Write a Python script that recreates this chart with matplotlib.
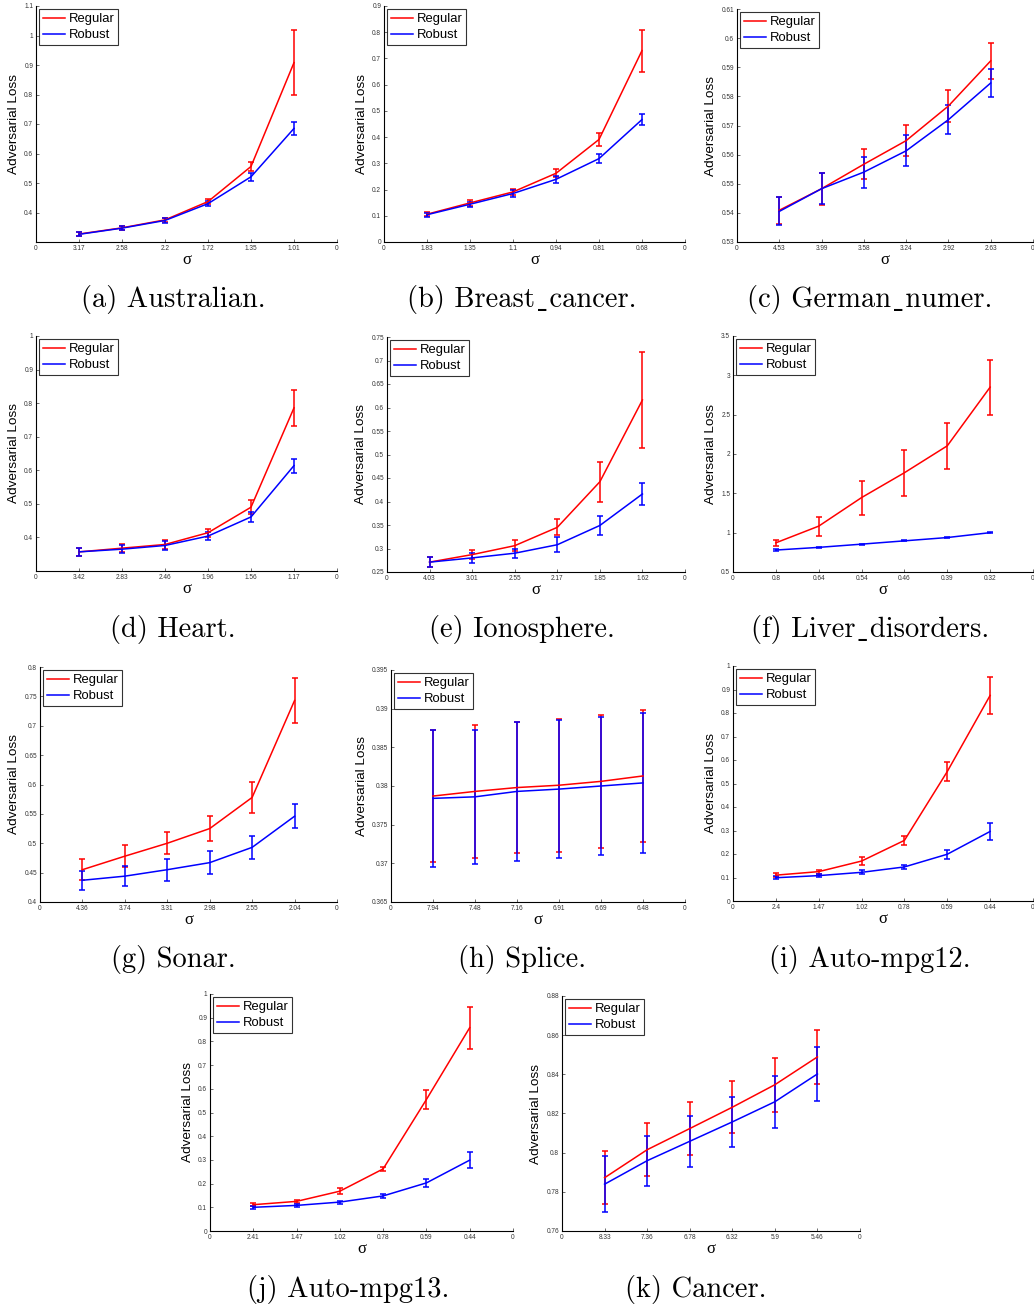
import matplotlib
matplotlib.use("Agg")
import matplotlib.pyplot as plt
from matplotlib.lines import Line2D
import numpy as np

plt.rcParams['font.family'] = ['Liberation Sans', 'DejaVu Sans']

# sigma tick labels for each dataset
sig_a = ['3.17', '2.58', '2.2', '1.72', '1.35', '1.01']
sig_b = ['1.83', '1.35', '1.1', '0.94', '0.81', '0.68']
sig_c = ['4.53', '3.99', '3.58', '3.24', '2.92', '2.63']
sig_d = ['3.42', '2.83', '2.46', '1.96', '1.56', '1.17']
sig_e = ['4.03', '3.01', '2.55', '2.17', '1.85', '1.62']
sig_f = ['0.8', '0.64', '0.54', '0.46', '0.39', '0.32']
sig_g = ['4.36', '3.74', '3.31', '2.98', '2.55', '2.04']
sig_h = ['7.94', '7.48', '7.16', '6.91', '6.69', '6.48']
sig_i = ['2.4', '1.47', '1.02', '0.78', '0.59', '0.44']
sig_j = ['2.41', '1.47', '1.02', '0.78', '0.59', '0.44']
sig_k = ['8.33', '7.36', '6.78', '6.32', '5.9', '5.46']

# adversarial loss (mean, error) -- Regular / Robust
reg_a = [0.327, 0.348, 0.375, 0.437, 0.556, 0.908]
reg_a_err = [0.007, 0.007, 0.008, 0.008, 0.015, 0.11]
rob_a = [0.326, 0.347, 0.373, 0.430, 0.521, 0.685]
rob_a_err = [0.007, 0.007, 0.008, 0.008, 0.014, 0.022]

reg_b = [0.106, 0.149, 0.191, 0.262, 0.391, 0.730]
reg_b_err = [0.008, 0.010, 0.012, 0.016, 0.026, 0.080]
rob_b = [0.104, 0.144, 0.185, 0.239, 0.318, 0.467]
rob_b_err = [0.008, 0.010, 0.012, 0.014, 0.018, 0.022]

reg_c = [0.5409, 0.5483, 0.5567, 0.5648, 0.5767, 0.5922]
reg_c_err = [0.0047, 0.0055, 0.0052, 0.0053, 0.0054, 0.0062]
rob_c = [0.5405, 0.5483, 0.5540, 0.5613, 0.5720, 0.5846]
rob_c_err = [0.0048, 0.0054, 0.0053, 0.0053, 0.0050, 0.0048]

reg_d = [0.357, 0.368, 0.379, 0.414, 0.490, 0.786]
reg_d_err = [0.012, 0.012, 0.012, 0.012, 0.020, 0.053]
rob_d = [0.357, 0.365, 0.376, 0.404, 0.461, 0.614]
rob_d_err = [0.012, 0.012, 0.012, 0.012, 0.016, 0.021]

reg_e = [0.271, 0.287, 0.306, 0.345, 0.442, 0.616]
reg_e_err = [0.010, 0.010, 0.012, 0.017, 0.042, 0.102]
rob_e = [0.271, 0.280, 0.290, 0.308, 0.349, 0.416]
rob_e_err = [0.011, 0.010, 0.010, 0.016, 0.020, 0.024]

reg_f = [0.871, 1.083, 1.446, 1.762, 2.104, 2.850]
reg_f_err = [0.042, 0.120, 0.217, 0.295, 0.290, 0.350]
rob_f = [0.779, 0.813, 0.854, 0.896, 0.938, 1.000]
rob_f_err = [0.010, 0.008, 0.008, 0.008, 0.008, 0.006]

reg_g = [0.455, 0.478, 0.500, 0.525, 0.578, 0.743]
reg_g_err = [0.018, 0.019, 0.019, 0.022, 0.026, 0.039]
rob_g = [0.437, 0.444, 0.455, 0.467, 0.493, 0.546]
rob_g_err = [0.016, 0.017, 0.019, 0.019, 0.020, 0.020]

reg_h = [0.3787, 0.3793, 0.3798, 0.3801, 0.3806, 0.3813]
reg_h_err = [0.0085, 0.0086, 0.0085, 0.0086, 0.0086, 0.0085]
rob_h = [0.3784, 0.3786, 0.3793, 0.3796, 0.3800, 0.3804]
rob_h_err = [0.0089, 0.0087, 0.0090, 0.0089, 0.0089, 0.0091]

reg_i = [0.110, 0.125, 0.170, 0.258, 0.551, 0.875]
reg_i_err = [0.008, 0.008, 0.018, 0.020, 0.039, 0.078]
rob_i = [0.099, 0.108, 0.122, 0.145, 0.199, 0.296]
rob_i_err = [0.007, 0.007, 0.008, 0.010, 0.020, 0.037]

reg_j = [0.111, 0.125, 0.168, 0.262, 0.555, 0.858]
reg_j_err = [0.006, 0.006, 0.012, 0.010, 0.040, 0.089]
rob_j = [0.100, 0.108, 0.122, 0.148, 0.203, 0.299]
rob_j_err = [0.006, 0.006, 0.006, 0.008, 0.018, 0.034]

reg_k = [0.7872, 0.8015, 0.8123, 0.8232, 0.8347, 0.8489]
reg_k_err = [0.0134, 0.0134, 0.0134, 0.0134, 0.0137, 0.0136]
rob_k = [0.7839, 0.7959, 0.8058, 0.8157, 0.8260, 0.8402]
rob_k_err = [0.0143, 0.0128, 0.0129, 0.0127, 0.0132, 0.0136]

# y-axis ranges and tick steps
ylims = {'a': (0.3, 1.1, 0.4, 0.1), 'b': (0, 0.9, 0, 0.1),
         'c': (0.53, 0.61, 0.53, 0.01), 'd': (0.3, 1.0, 0.4, 0.1),
         'e': (0.25, 0.75, 0.25, 0.05), 'f': (0.5, 3.5, 0.5, 0.5),
         'g': (0.4, 0.8, 0.4, 0.05), 'h': (0.365, 0.395, 0.365, 0.005),
         'i': (0, 1, 0, 0.1), 'j': (0, 1, 0, 0.1), 'k': (0.76, 0.88, 0.76, 0.02)}

# '\u02cd' stands in for the LaTeX underscore (cmr10 has no real '_')
captions = {'a': '(a) Australian.', 'b': '(b) Breast\u02cdcancer.', 'c': '(c) German\u02cdnumer.',
            'd': '(d) Heart.', 'e': '(e) Ionosphere.', 'f': '(f) Liver\u02cddisorders.',
            'g': '(g) Sonar.', 'h': '(h) Splice.', 'i': '(i) Auto-mpg12.',
            'j': '(j) Auto-mpg13.', 'k': '(k) Cancer.'}

panels = [
    ('a', sig_a, reg_a, reg_a_err, rob_a, rob_a_err, (36, 6, 337, 242), 173, 300),
    ('b', sig_b, reg_b, reg_b_err, rob_b, rob_b_err, (384, 6, 685, 242), 522, 300),
    ('c', sig_c, reg_c, reg_c_err, rob_c, rob_c_err, (737, 9, 1033, 242), 870, 300),
    ('d', sig_d, reg_d, reg_d_err, rob_d, rob_d_err, (36, 336, 337, 571), 173, 630),
    ('e', sig_e, reg_e, reg_e_err, rob_e, rob_e_err, (387, 337, 685, 572), 522, 630),
    ('f', sig_f, reg_f, reg_f_err, rob_f, rob_f_err, (733, 336, 1033, 572), 870, 630),
    ('g', sig_g, reg_g, reg_g_err, rob_g, rob_g_err, (40, 667, 337, 902), 173, 960),
    ('h', sig_h, reg_h, reg_h_err, rob_h, rob_h_err, (391, 670, 685, 902), 522, 960),
    ('i', sig_i, reg_i, reg_i_err, rob_i, rob_i_err, (733, 666, 1033, 901), 870, 960),
    ('j', sig_j, reg_j, reg_j_err, rob_j, rob_j_err, (210, 994, 513, 1231), 348, 1289),
    ('k', sig_k, reg_k, reg_k_err, rob_k, rob_k_err, (562, 996, 860, 1231), 696, 1289),
]

RED, BLUE = '#ff0000', '#0000ff'
W, H = 1034, 1308
fig = plt.figure(figsize=(W / 100, H / 100), dpi=100)

for key, sig, reg, reg_err, rob, rob_err, box, cx, cy in panels:
    x0, y0, x1, y1 = box
    ax = fig.add_axes([x0 / W, 1 - y1 / H, (x1 - x0) / W, (y1 - y0) / H])
    x = np.arange(1, len(sig) + 1)
    ax.errorbar(x, reg, yerr=reg_err, color=RED, lw=1.1, elinewidth=1.1,
                capsize=2, capthick=1.1)
    ax.errorbar(x, rob, yerr=rob_err, color=BLUE, lw=1.1, elinewidth=1.1,
                capsize=2, capthick=1.1)
    lo, hi, t0, step = ylims[key]
    ax.set_xlim(0, len(sig) + 1)
    ax.set_ylim(lo, hi)
    ax.set_xticks(np.arange(0, len(sig) + 2))
    ax.set_xticklabels(['0'] + sig + ['0'])
    yt = np.arange(t0, hi + step / 2, step)
    ax.set_yticks(yt)
    ax.set_yticklabels(['%g' % round(v, 4) for v in yt])
    ax.tick_params(direction='in', length=2.5, width=0.5, labelsize=4.7, pad=2,
                   colors='#333333')
    for s in ['top', 'right']:
        ax.spines[s].set_visible(False)
    for s in ['left', 'bottom']:
        ax.spines[s].set_linewidth(0.8)
    ax.set_ylabel('Adversarial Loss', fontsize=9.7, labelpad=3)
    ax.set_xlabel('\u03c3', fontsize=12, labelpad=0, family='Liberation Serif')
    handles = [Line2D([], [], color=RED, lw=1.1), Line2D([], [], color=BLUE, lw=1.1)]
    leg = ax.legend(handles, ['Regular', 'Robust'], loc='upper left', fontsize=9.4,
                    frameon=True, fancybox=False, borderaxespad=0.25, handlelength=1.7,
                    handletextpad=0.25, borderpad=0.3, labelspacing=0.3)
    leg.get_frame().set_edgecolor('black')
    leg.get_frame().set_linewidth(0.8)
    fig.text(cx / W, 1 - cy / H, captions[key], fontsize=20.5, ha='center', va='center',
             family=['cmr10', 'DejaVu Serif'])

fig.savefig('out.png', dpi=100)
